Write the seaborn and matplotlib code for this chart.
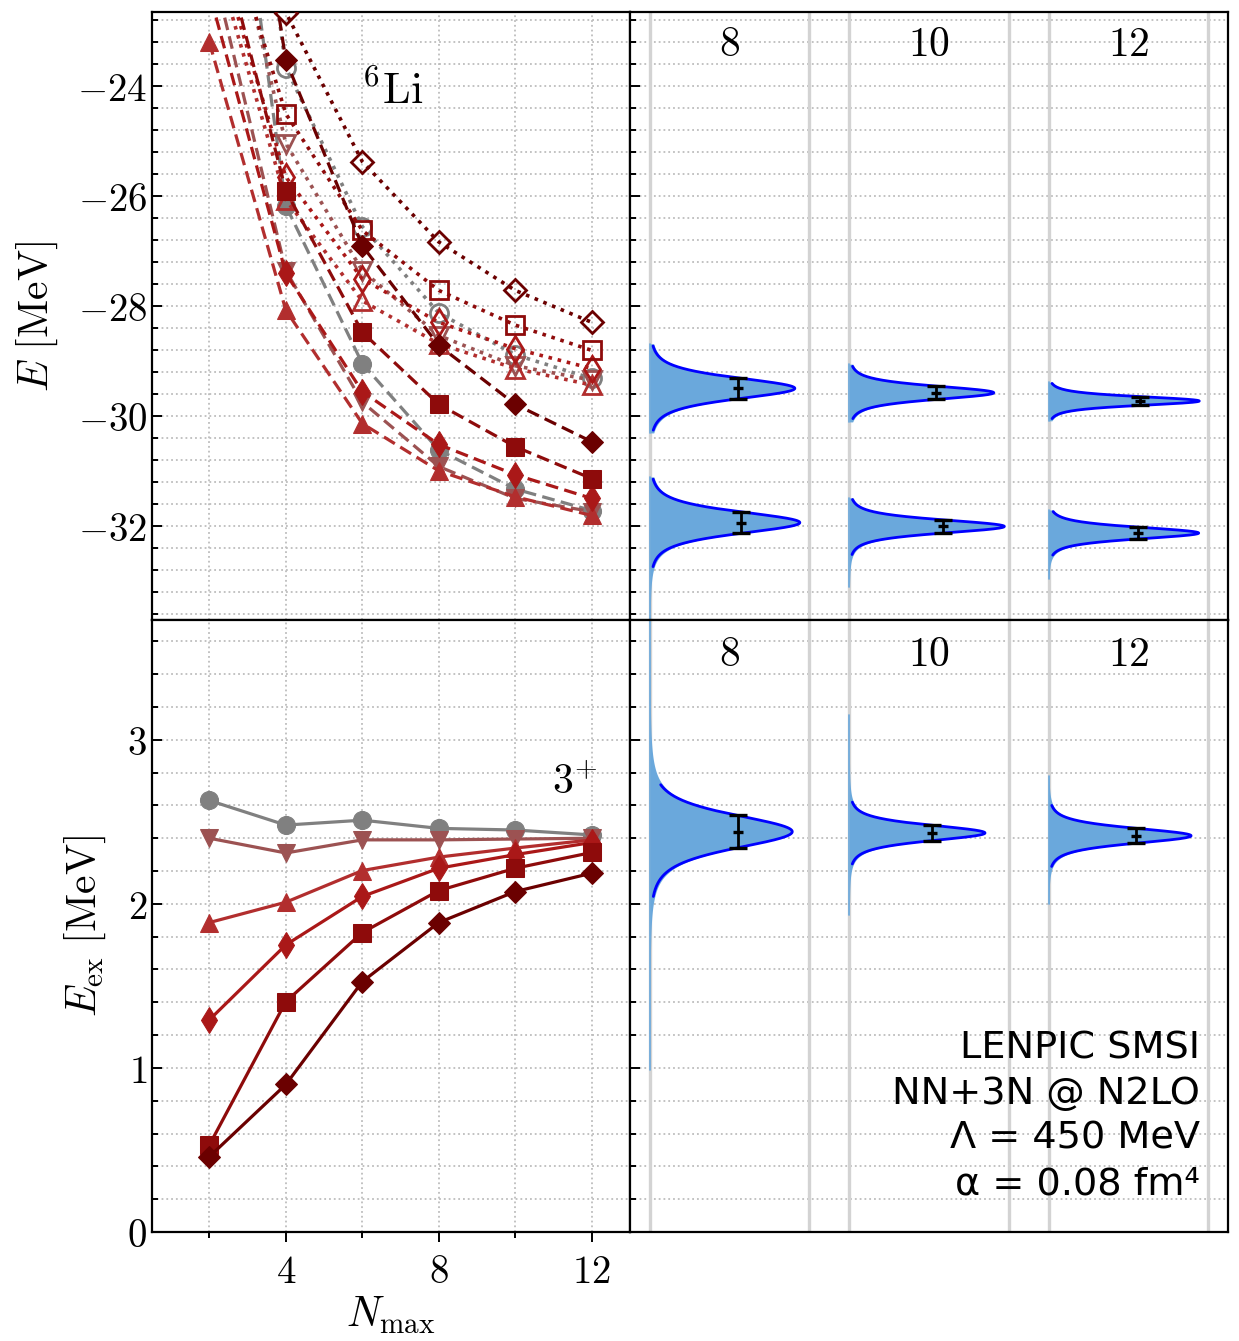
import numpy as np
import matplotlib
matplotlib.use("Agg")
import matplotlib.pyplot as plt
from matplotlib.ticker import FixedLocator, MultipleLocator, FuncFormatter
import seaborn as sns

# --- left panels: N_max sequences ---
nmax = [2, 4, 6, 8, 10, 12]
markers = ['o', 'v', '^', 'd', 's', 'D']
colors = ['#808080', '#9c5252', '#b22e2e', '#aa1818', '#8e0b0b', '#6b0000']

# ground state energies (dashed, filled)
gs_o = [-16.0, -26.17, -29.04, -30.61, -31.32, -31.71]
gs_v = [-21.6, -27.35, -29.74, -30.91, -31.49, -31.73]
gs_up = [-23.2, -28.07, -30.13, -30.99, -31.46, -31.80]
gs_d = [-22.3, -27.40, -29.55, -30.51, -31.06, -31.49]
gs_s = [-20.5, -25.90, -28.47, -29.78, -30.55, -31.13]
gs_D = [-14.5, -23.53, -26.90, -28.71, -29.78, -30.46]

# 3+ energies (dotted, open)
ex_o = [-13.4, -23.66, -26.55, -28.12, -28.88, -29.31]
ex_v = [-19.2, -25.04, -27.35, -28.53, -29.08, -29.34]
ex_up = [-21.3, -26.06, -27.90, -28.68, -29.13, -29.43]
ex_d = [-21.0, -25.65, -27.50, -28.29, -28.77, -29.13]
ex_s = [-20.0, -24.50, -26.62, -27.71, -28.34, -28.80]
ex_D = [-14.0, -22.66, -25.37, -26.83, -27.71, -28.29]

# excitation energies (solid, filled)
eex_o = [2.63, 2.48, 2.51, 2.46, 2.45, 2.42]
eex_v = [2.40, 2.31, 2.39, 2.39, 2.395, 2.40]
eex_up = [1.886, 2.01, 2.203, 2.285, 2.34, 2.39]
eex_d = [1.293, 1.75, 2.045, 2.217, 2.30, 2.374]
eex_s = [0.53, 1.404, 1.825, 2.081, 2.217, 2.313]
eex_D = [0.459, 0.899, 1.526, 1.886, 2.075, 2.187]

gs_all = [gs_o, gs_v, gs_up, gs_d, gs_s, gs_D]
ex_all = [ex_o, ex_v, ex_up, ex_d, ex_s, ex_D]
eex_all = [eex_o, eex_v, eex_up, eex_d, eex_s, eex_D]

# --- right panels: extrapolation distributions for N_max = 8, 10, 12 ---
dist_labels = ['8', '10', '12']
gs_mu = [-31.93, -32.00, -32.12]
gs_sig = [0.195, 0.12, 0.105]
gs_peak = [0.752, 0.778, 0.753]
gs_bar_x = [0.455, 0.472, 0.447]
gs_curve = [(-32.73, -31.14), (-32.51, -31.51), (-32.52, -31.73)]
gs_hist = [(-33.9, -31.10), (-33.1, -31.48), (-32.95, -31.70)]

ex_mu = [-29.49, -29.57, -29.72]
ex_sig = [0.19, 0.12, 0.08]
ex_peak = [0.727, 0.725, 0.756]
ex_bar_x = [0.44, 0.433, 0.459]
ex_curve = [(-30.25, -28.72), (-30.04, -29.09), (-30.04, -29.40)]
ex_hist = [(-30.30, -28.68), (-30.10, -29.05), (-30.08, -29.38)]

eex_mu = [2.44, 2.432, 2.415]
eex_sig = [0.10, 0.047, 0.046]
eex_peak = [0.714, 0.681, 0.715]
eex_bar_x = [0.44, 0.414, 0.44]
eex_curve = [(2.045, 2.726), (2.243, 2.62), (2.228, 2.60)]
eex_hist = [(0.99, 3.9), (1.93, 3.15), (2.0, 2.78)]

sns.set_style("ticks")
plt.rcParams['font.family'] = ['DejaVu Sans']
plt.rcParams['mathtext.fontset'] = 'cm'
plt.rcParams['text.color'] = 'black'
plt.rcParams['axes.labelcolor'] = 'black'
plt.rcParams['xtick.color'] = 'black'
plt.rcParams['ytick.color'] = 'black'

fig = plt.figure(figsize=(12.39, 13.41), dpi=100)
L0, L1, R1 = 152 / 1239, 630 / 1239, 1228 / 1239
T0, M0, B0 = 1 - 12 / 1341, 1 - 620 / 1341, 1 - 1232 / 1341
ax_tl = fig.add_axes([L0, M0, L1 - L0, T0 - M0])
ax_bl = fig.add_axes([L0, B0, L1 - L0, M0 - B0])
ax_tr = fig.add_axes([L1, M0, R1 - L1, T0 - M0])
ax_br = fig.add_axes([L1, B0, R1 - L1, M0 - B0])

mfmt = FuncFormatter(lambda v, p: f"${v:g}$")
grid_kw = dict(color='#bdbdbd', linestyle=':', linewidth=1.3)

for ax in [ax_tl, ax_bl, ax_tr, ax_br]:
    for sp in ax.spines.values():
        sp.set_linewidth(1.6)
        sp.set_color('black')


def msize(m):
    return 11.5 if m == 'D' else 13


# top-left: absolute energies
for i in range(6):
    sns.lineplot(x=nmax, y=gs_all[i], ax=ax_tl, color=colors[i], marker=markers[i],
                 markersize=msize(markers[i]), markeredgecolor=colors[i],
                 linestyle=(0, (4, 2)), linewidth=2.3, zorder=3)
    sns.lineplot(x=nmax, y=ex_all[i], ax=ax_tl, color=colors[i], marker=markers[i],
                 markersize=msize(markers[i]), markerfacecolor='none',
                 markeredgecolor=colors[i], markeredgewidth=2,
                 linestyle=(0, (1, 1.6)), linewidth=2.6, zorder=3)

# bottom-left: excitation energies
for i in range(6):
    sns.lineplot(x=nmax, y=eex_all[i], ax=ax_bl, color=colors[i], marker=markers[i],
                 markersize=msize(markers[i]), markeredgecolor=colors[i],
                 linestyle='-', linewidth=2.3, zorder=3)

for ax in [ax_tl, ax_bl]:
    ax.set_xlim(0.5, 13)
    ax.xaxis.set_major_locator(FixedLocator([4, 8, 12]))
    ax.xaxis.set_minor_locator(FixedLocator([2, 6, 10]))
    ax.grid(True, which='both', **grid_kw)
    ax.tick_params(axis='y', which='both', direction='in', labelsize=28, width=1.4)
    ax.tick_params(axis='y', which='major', length=7)
    ax.tick_params(axis='y', which='minor', length=4.5)
    ax.yaxis.set_major_formatter(mfmt)
    ax.set_axisbelow(True)

ax_tl.set_ylim(-33.7, -22.65)
ax_tl.yaxis.set_major_locator(MultipleLocator(2))
ax_tl.yaxis.set_minor_locator(MultipleLocator(0.4))
ax_tl.tick_params(axis='x', which='both', bottom=False, labelbottom=False)
ax_tl.set_ylabel(r"$E\ [\mathrm{MeV}]$", fontsize=30, labelpad=12)
ax_tl.set_xlabel("")
ax_tl.text(6.8, -24.1, r"$^{6}\mathrm{Li}$", fontsize=32, ha='center', va='center')

ax_bl.set_ylim(0, 3.73)
ax_bl.yaxis.set_major_locator(MultipleLocator(1))
ax_bl.yaxis.set_minor_locator(MultipleLocator(0.2))
ax_bl.tick_params(axis='x', which='both', direction='out', labelsize=28, width=1.4, pad=8)
ax_bl.tick_params(axis='x', which='major', length=7)
ax_bl.tick_params(axis='x', which='minor', length=4)
ax_bl.xaxis.set_major_formatter(mfmt)
ax_bl.set_xlabel(r"$N_{\mathrm{max}}$", fontsize=30, labelpad=2)
ax_bl.set_ylabel(r"$E_{\mathrm{ex}}\ [\mathrm{MeV}]$", fontsize=30, labelpad=14)
ax_bl.text(11.55, 2.74, r"$3^{+}$", fontsize=30, ha='center', va='center')


def profile(e, mu, sig, nu):
    z0 = np.sqrt(nu * (0.607 ** (-2 / (nu + 1)) - 1))
    z = (e - mu) / sig * z0
    return (1 + z ** 2 / nu) ** (-(nu + 1) / 2)


def draw_dist(ax, base, mu, sig, peak, bar_x, curve, hist):
    ef = np.linspace(hist[0], hist[1], 1500)
    ax.fill_betweenx(ef, base, base + peak * profile(ef, mu, sig, 3),
                     color='#6aa8dc', linewidth=0, zorder=2)
    ax.plot([base, base], hist, color='#6aa8dc', linewidth=1.2, zorder=2)
    ec = np.linspace(curve[0], curve[1], 400)
    ax.plot(base + peak * profile(ec, mu, sig, 4), ec, color='#0000ff', linewidth=2.0, zorder=3)
    ax.errorbar(base + bar_x, mu, yerr=sig, fmt='_', color='black', markersize=7,
                markeredgewidth=2.4, elinewidth=2.0, capsize=6.5, capthick=2.4, zorder=4)


for ax in [ax_tr, ax_br]:
    ax.set_xlim(-0.1, 2.9)
    for i in range(3):
        ax.axvline(i, color='#d3d3d3', linewidth=2.4, zorder=1)
        ax.axvline(i + 0.8, color='#d3d3d3', linewidth=2.4, zorder=1)
    ax.grid(True, which='both', axis='y', **grid_kw)
    ax.tick_params(axis='x', which='both', bottom=False, labelbottom=False)
    ax.tick_params(axis='y', which='both', direction='in', labelleft=False, width=1.4)
    ax.tick_params(axis='y', which='major', length=7)
    ax.tick_params(axis='y', which='minor', length=4.5)
    ax.set_axisbelow(True)

ax_tr.set_ylim(ax_tl.get_ylim())
ax_tr.yaxis.set_major_locator(MultipleLocator(2))
ax_tr.yaxis.set_minor_locator(MultipleLocator(0.4))
ax_br.set_ylim(ax_bl.get_ylim())
ax_br.yaxis.set_major_locator(MultipleLocator(1))
ax_br.yaxis.set_minor_locator(MultipleLocator(0.2))

for i in range(3):
    draw_dist(ax_tr, i, ex_mu[i], ex_sig[i], ex_peak[i], ex_bar_x[i], ex_curve[i], ex_hist[i])
    draw_dist(ax_tr, i, gs_mu[i], gs_sig[i], gs_peak[i], gs_bar_x[i], gs_curve[i], gs_hist[i])
    draw_dist(ax_br, i, eex_mu[i], eex_sig[i], eex_peak[i], eex_bar_x[i], eex_curve[i], eex_hist[i])
    ax_tr.text(i + 0.4, -23.24, f"${dist_labels[i]}$", fontsize=30, ha='center', va='center')
    ax_br.text(i + 0.4, 3.52, f"${dist_labels[i]}$", fontsize=30, ha='center', va='center')

info = ["LENPIC SMSI", "NN+3N @ N2LO", "Λ = 450 MeV", "α = 0.08 fm⁴"]
info_y = [0.300, 0.226, 0.152, 0.078]
for txt, yy in zip(info, info_y):
    ax_br.text(0.953, yy, txt, transform=ax_br.transAxes, fontsize=27.5,
               ha='right', va='center', zorder=5)

fig.savefig("out.png", dpi=100)
